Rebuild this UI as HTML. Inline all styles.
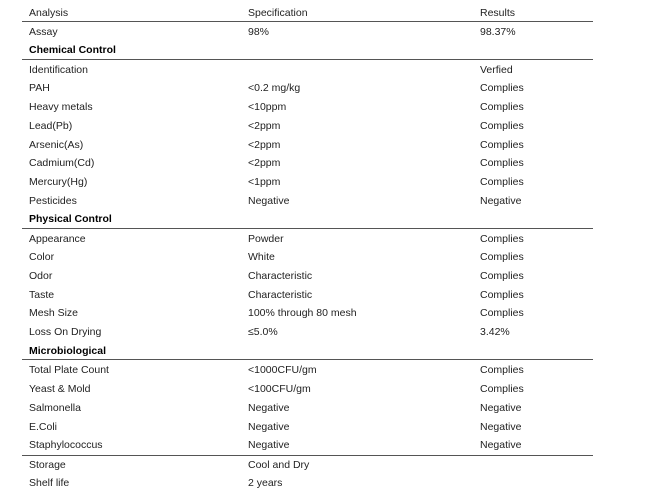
<!DOCTYPE html>
<html><head><meta charset="utf-8"><style>
body{margin:0;width:663px;height:504px;background:#fff;position:relative;font-family:"Liberation Sans",sans-serif;font-size:10.5px;color:#222;overflow:hidden}
.t{position:absolute;white-space:nowrap;line-height:12px}
.b{font-weight:bold;color:#000}
.l{position:absolute;left:22px;width:571px;height:1px;background:#555}
</style></head><body>
<div class="l" style="top:21px"></div>
<div class="l" style="top:59px"></div>
<div class="l" style="top:228px"></div>
<div class="l" style="top:359px"></div>
<div class="l" style="top:455px"></div>
<div id="c"></div>
<script>
var rows=[
[7,"Analysis","Specification","Results"],
[26,"Assay","98%","98.37%"],
[44,"Chemical Control","","",1],
[64,"Identification","","Verfied"],
[82,"PAH","<0.2 mg/kg","Complies"],
[101,"Heavy metals","<10ppm","Complies"],
[120,"Lead(Pb)","<2ppm","Complies"],
[139,"Arsenic(As)","<2ppm","Complies"],
[157,"Cadmium(Cd)","<2ppm","Complies"],
[176,"Mercury(Hg)","<1ppm","Complies"],
[195,"Pesticides","Negative","Negative"],
[213,"Physical Control","","",1],
[233,"Appearance","Powder","Complies"],
[251,"Color","White","Complies"],
[270,"Odor","Characteristic","Complies"],
[289,"Taste","Characteristic","Complies"],
[307,"Mesh Size","100% through 80 mesh","Complies"],
[326,"Loss On Drying","≤5.0%","3.42%"],
[345,"Microbiological","","",1],
[364,"Total Plate Count","<1000CFU/gm","Complies"],
[383,"Yeast & Mold","<100CFU/gm","Complies"],
[402,"Salmonella","Negative","Negative"],
[421,"E.Coli","Negative","Negative"],
[439,"Staphylococcus","Negative","Negative"],
[459,"Storage","Cool and Dry",""],
[477,"Shelf life","2 years",""]];
var h="";function e(s){return s.replace(/&/g,"&amp;").replace(/</g,"&lt;")}
rows.forEach(function(r){
h+='<div class="t'+(r[4]?' b':'')+'" style="left:29px;top:'+r[0]+'px">'+e(r[1])+'</div>';
if(r[2])h+='<div class="t" style="left:248px;top:'+r[0]+'px">'+e(r[2])+'</div>';
if(r[3])h+='<div class="t" style="left:480px;top:'+r[0]+'px">'+e(r[3])+'</div>';});
document.getElementById("c").innerHTML=h;
</script>
</body></html>
